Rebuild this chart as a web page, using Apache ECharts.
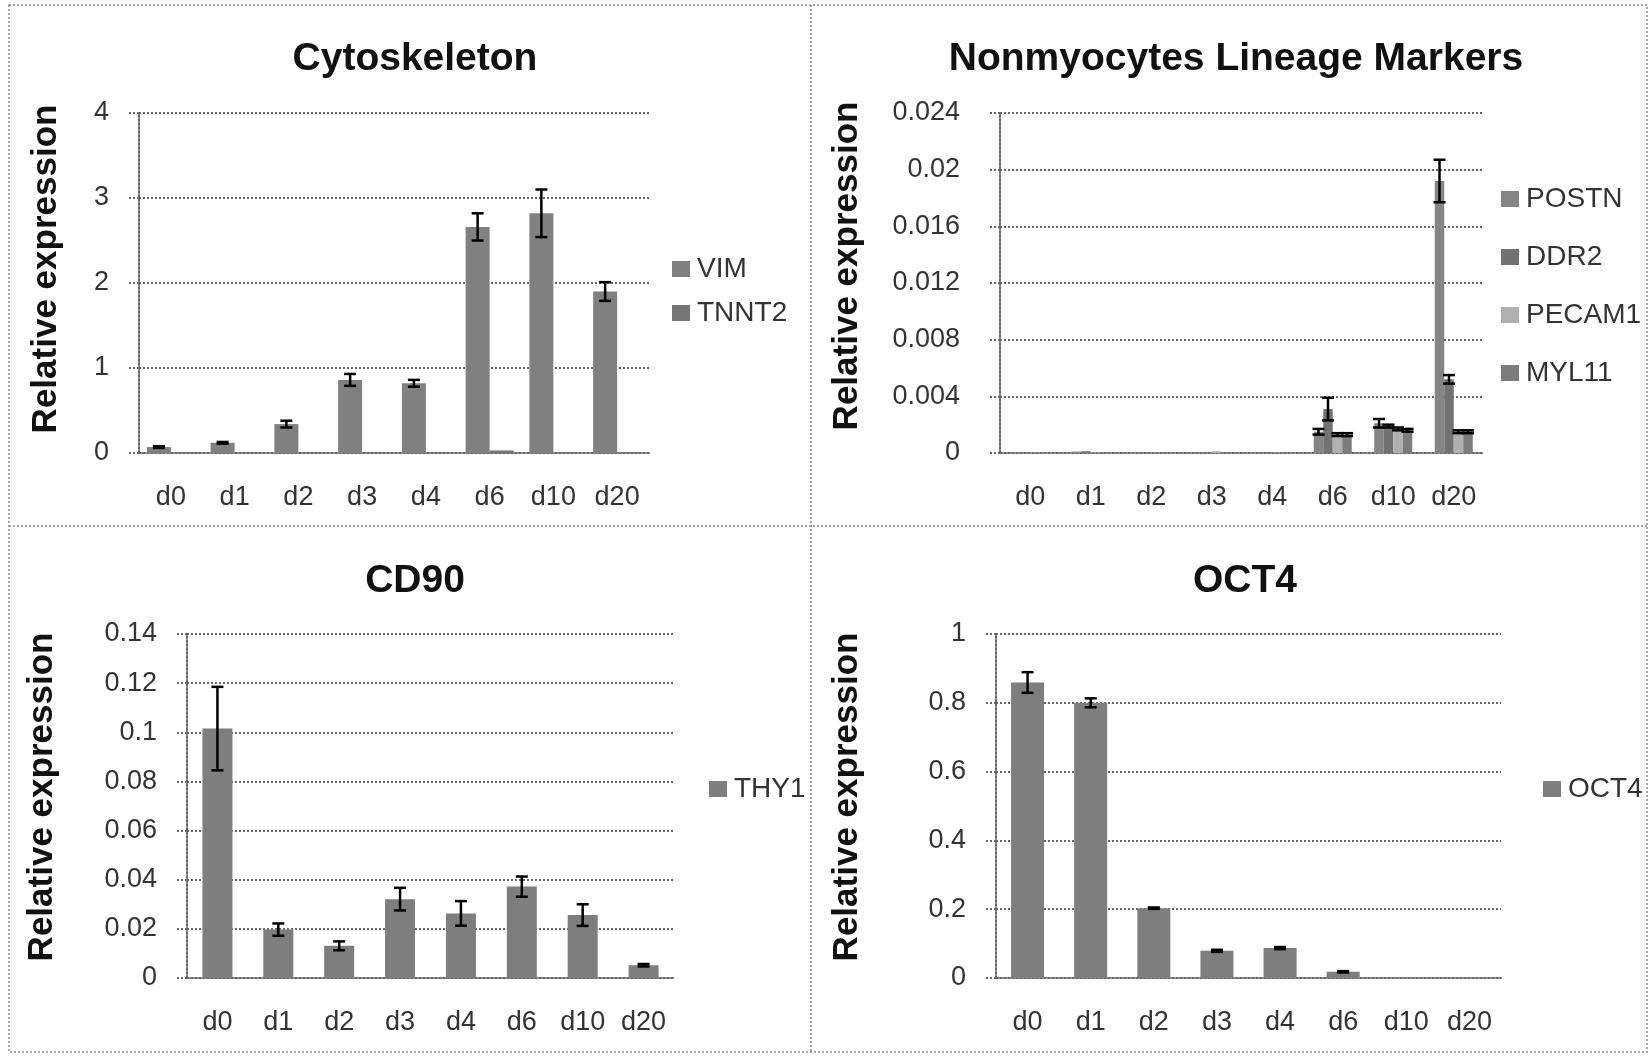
<!DOCTYPE html>
<html>
<head>
<meta charset="utf-8">
<title>Relative expression</title>
<script src="https://cdn.jsdelivr.net/npm/echarts@6/dist/echarts.min.js"></script>
<style>
  html, body { margin: 0; padding: 0; background: #fff; }
  #chart { width: 1650px; height: 1057px; }
</style>
</head>
<body>
<div id="chart"></div>
<script>
// 横轴分类
const days = ['d0', 'd1', 'd2', 'd3', 'd4', 'd6', 'd10', 'd20']

// Cytoskeleton
const vim = [0.07, 0.12, 0.34, 0.86, 0.82, 2.66, 2.82, 1.9]
const vimErr = [0.01, 0.01, 0.04, 0.07, 0.04, 0.16, 0.28, 0.11]
const tnnt2 = [0.01, 0.003, 0.003, 0.003, 0.003, 0.03, 0.01, 0.01]
const tnnt2Err = [0, 0, 0, 0, 0, 0, 0, 0]

// Nonmyocytes Lineage Markers
const postn = [0.00005, 0.0001, 0.00003, 0.00003, 0.00003, 0.0015, 0.0021, 0.0192]
const postnErr = [0, 0, 0, 0, 0, 0.0002, 0.0003, 0.0015]
const ddr2 = [0.00003, 0.00012, 0.00003, 0.00003, 0.00003, 0.0031, 0.0019, 0.0052]
const ddr2Err = [0, 0, 0, 0, 0, 0.0008, 0.0001, 0.0003]
const pecam1 = [0.00002, 0.00003, 0.00002, 0.00012, 0.00003, 0.0013, 0.0017, 0.0015]
const pecam1Err = [0, 0, 0, 0, 0, 0.0001, 0.0001, 0.0001]
const myl11 = [0.00002, 0.00002, 0.00002, 0.00003, 0.00003, 0.0013, 0.0016, 0.0015]
const myl11Err = [0, 0, 0, 0, 0, 0.0001, 0.0001, 0.0001]

// CD90
const thy1 = [0.1015, 0.0197, 0.0131, 0.0321, 0.0263, 0.0372, 0.0256, 0.0052]
const thy1Err = [0.017, 0.0025, 0.0018, 0.0046, 0.005, 0.0041, 0.0044, 0.0005]

// OCT4
const oct4 = [0.859, 0.8, 0.203, 0.079, 0.087, 0.018, 0.002, 0.001]
const oct4Err = [0.03, 0.013, 0.002, 0.003, 0.003, 0.002, 0, 0]

const font = '"Liberation Sans", Arial, sans-serif'
const textColor = '#333'
const dotted = { color: '#666', width: 2, type: 'dotted' }

// 四个子图的位置
const panels = [
  { title: 'Cytoskeleton', cx: 410, ty: 35, grid: { left: 139, top: 113, width: 510, height: 340 }, max: 4, interval: 1, barWidth: 24, nameGap: 75, nameShift: 28, labelMargin: 30, legend: { left: 667, top: 250, itemGap: 16 } },
  { title: 'Nonmyocytes Lineage Markers', cx: 1231, ty: 35, grid: { left: 1000, top: 113, width: 484, height: 340 }, max: 0.024, interval: 0.004, barWidth: 9.5, nameGap: 135, nameShift: 34, labelMargin: 40, legend: { left: 1496, top: 180, itemGap: 30 } },
  { title: 'CD90', cx: 410, ty: 557, grid: { left: 187, top: 634, width: 487, height: 344 }, max: 0.14, interval: 0.02, barWidth: 30, nameGap: 127, nameShift: 18, labelMargin: 30, legend: { left: 704, top: 770, itemGap: 20 } },
  { title: 'OCT4', cx: 1240, ty: 557, grid: { left: 996, top: 634, width: 505, height: 344 }, max: 1, interval: 0.2, barWidth: 33, nameGap: 131, nameShift: 18, labelMargin: 30, legend: { left: 1538, top: 770, itemGap: 20 } }
]

// 每个子图的系列：名称、数值、误差、颜色
const groups = [
  [['VIM', vim, vimErr, '#808080'], ['TNNT2', tnnt2, tnnt2Err, '#767676']],
  [['POSTN', postn, postnErr, '#858585'], ['DDR2', ddr2, ddr2Err, '#727272'], ['PECAM1', pecam1, pecam1Err, '#b0b0b0'], ['MYL11', myl11, myl11Err, '#7c7c7c']],
  [['THY1', thy1, thy1Err, '#7e7e7e']],
  [['OCT4', oct4, oct4Err, '#7e7e7e']]
]

const fmt = (v) => String(parseFloat(v.toFixed(4)))

const option = {
  animation: false,
  backgroundColor: '#fff',
  title: [],
  legend: [],
  grid: [],
  xAxis: [],
  yAxis: [],
  series: [],
  graphic: [
    { type: 'rect', shape: { x: 9, y: 5, width: 1638, height: 1047 }, style: { fill: 'none', stroke: '#888', lineWidth: 1.5, lineDash: [2, 2] } },
    { type: 'line', shape: { x1: 811, y1: 5, x2: 811, y2: 1052 }, style: { stroke: '#888', lineWidth: 1.5, lineDash: [2, 2] } },
    { type: 'line', shape: { x1: 9, y1: 526, x2: 1647, y2: 526 }, style: { stroke: '#888', lineWidth: 1.5, lineDash: [2, 2] } }
  ]
}

panels.forEach((p, i) => {
  option.title.push({
    text: p.title,
    left: p.cx,
    top: p.ty,
    textAlign: 'center',
    textStyle: { fontFamily: font, fontWeight: 'bold', fontSize: 39, color: '#111' }
  })
  option.grid.push(p.grid)
  option.xAxis.push({
    type: 'category',
    gridIndex: i,
    data: days,
    axisLine: { lineStyle: dotted },
    axisTick: { show: false },
    axisLabel: { margin: 31, fontFamily: font, fontSize: 27, color: textColor }
  })
  option.yAxis.push({
    type: 'value',
    gridIndex: i,
    min: 0,
    max: p.max,
    interval: p.interval,
    name: 'Relative expression',
    nameLocation: 'middle',
    nameGap: p.nameGap,
    // 左侧留白让轴名稍微上移
    nameTextStyle: { fontFamily: font, fontWeight: 'bold', fontSize: 35, color: '#111', padding: [0, 0, 0, p.nameShift] },
    axisLine: { show: true, lineStyle: dotted },
    axisTick: { show: true, length: 10, lineStyle: dotted },
    splitLine: { lineStyle: dotted },
    axisLabel: { margin: p.labelMargin, fontFamily: font, fontSize: 27, color: textColor, formatter: fmt }
  })
  option.legend.push({
    orient: 'vertical',
    left: p.legend.left,
    top: p.legend.top,
    itemGap: p.legend.itemGap,
    itemWidth: 18,
    itemHeight: 16,
    icon: 'rect',
    data: groups[i].map(s => s[0]),
    textStyle: { fontFamily: font, fontSize: 28, color: textColor, padding: [0, 0, 0, 2] }
  })

  const n = groups[i].length
  groups[i].forEach((s, k) => {
    option.series.push({
      name: s[0],
      type: 'bar',
      xAxisIndex: i,
      yAxisIndex: i,
      data: s[1],
      barWidth: p.barWidth,
      barGap: '0%',
      itemStyle: { color: s[3] }
    })
    // 误差线
    const offset = (k - (n - 1) / 2) * p.barWidth
    option.series.push({
      type: 'custom',
      xAxisIndex: i,
      yAxisIndex: i,
      data: s[1].map((v, j) => [j, v, s[2][j]]),
      z: 5,
      renderItem: (params, api) => {
        const e = api.value(2)
        if (!e) return
        const v = api.value(1)
        const top = api.coord([api.value(0), v + e])
        const bot = api.coord([api.value(0), Math.max(v - e, 0)])
        const x = top[0] + offset
        const cap = 6
        const style = { stroke: '#000', lineWidth: 2.5 }
        return {
          type: 'group',
          children: [
            { type: 'line', shape: { x1: x, y1: top[1], x2: x, y2: bot[1] }, style },
            { type: 'line', shape: { x1: x - cap, y1: top[1], x2: x + cap, y2: top[1] }, style },
            { type: 'line', shape: { x1: x - cap, y1: bot[1], x2: x + cap, y2: bot[1] }, style }
          ]
        }
      }
    })
  })
})

const myChart = echarts.init(document.getElementById('chart'))
myChart.setOption(option)
</script>
</body>
</html>
